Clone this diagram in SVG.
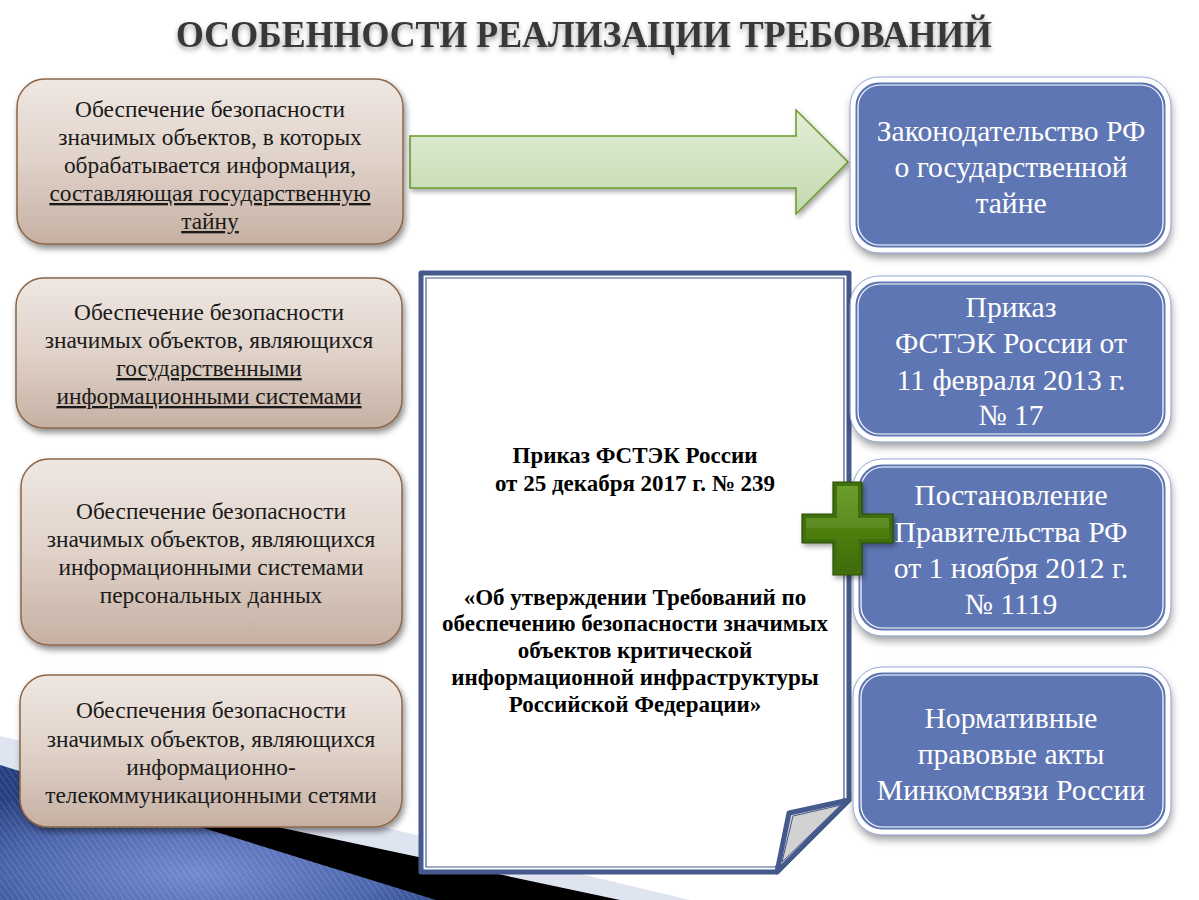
<svg xmlns="http://www.w3.org/2000/svg" width="1199" height="900" viewBox="0 0 1199 900">
<defs>
  <style>
    .lt { font-family: "Liberation Serif", "Tinos", "DejaVu Serif", "Noto Serif", serif; font-size: 23.4px; fill: #1a1a1a; text-anchor: middle; }
    .rt { font-family: "Liberation Serif", "Tinos", "DejaVu Serif", "Noto Serif", serif; font-size: 29.6px; fill: #ffffff; text-anchor: middle; }
    .dt { font-family: "Liberation Serif", "Tinos", "DejaVu Serif", "Noto Serif", serif; font-size: 23px; font-weight: bold; fill: #000000; text-anchor: middle; }
    .tt { font-family: "Liberation Serif", "Tinos", "DejaVu Serif", "Noto Serif", serif; font-size: 38px; font-weight: bold; fill: #383838; text-anchor: middle; }
    .lbox { fill: url(#gBeige); stroke: #8c6647; stroke-width: 1.5; }
    .rbox { fill: #5f76b4; stroke: #ffffff; stroke-width: 5; }
    .rin { fill: none; stroke: #ffffff; stroke-width: 1.2; }
    .rout { fill: none; stroke: #9aabd8; stroke-width: 1; }
  </style>
  <linearGradient id="gBeige" x1="0" y1="0" x2="0" y2="1">
    <stop offset="0" stop-color="#efe7e2"/>
    <stop offset="0.5" stop-color="#e0d2c9"/>
    <stop offset="1" stop-color="#c6b0a3"/>
  </linearGradient>
  <linearGradient id="gArrow" x1="0" y1="0" x2="0" y2="1">
    <stop offset="0" stop-color="#e3eed9"/>
    <stop offset="1" stop-color="#c2d9ae"/>
  </linearGradient>
  <linearGradient id="gCross" x1="0" y1="0" x2="0" y2="1">
    <stop offset="0" stop-color="#5f9518"/>
    <stop offset="1" stop-color="#3f6c08"/>
  </linearGradient>
  <radialGradient id="gBlue" cx="0.45" cy="0.8" r="0.7">
    <stop offset="0" stop-color="#7189cf"/>
    <stop offset="0.6" stop-color="#4c66ae"/>
    <stop offset="1" stop-color="#263f80"/>
  </radialGradient>
  <pattern id="pStripe" width="5" height="5" patternUnits="userSpaceOnUse" patternTransform="rotate(-35)">
    <rect width="5" height="5" fill="none"/>
    <line x1="0" y1="0" x2="0" y2="5" stroke="#ffffff" stroke-opacity="0.18" stroke-width="1.5"/>
  </pattern>
  <filter id="shL" x="-10%" y="-10%" width="125%" height="135%">
    <feDropShadow dx="2" dy="4" stdDeviation="3" flood-color="#000" flood-opacity="0.45"/>
  </filter>
  <filter id="shR" x="-10%" y="-10%" width="125%" height="135%">
    <feDropShadow dx="1" dy="5" stdDeviation="4" flood-color="#000" flood-opacity="0.4"/>
  </filter>
  <filter id="shT" x="-5%" y="-30%" width="110%" height="170%">
    <feDropShadow dx="0" dy="3" stdDeviation="2.5" flood-color="#555" flood-opacity="0.6"/>
  </filter>
  <filter id="shA" x="-5%" y="-10%" width="110%" height="130%">
    <feDropShadow dx="2" dy="3" stdDeviation="2.5" flood-color="#000" flood-opacity="0.35"/>
  </filter>
</defs>

<rect x="0" y="0" width="1199" height="900" fill="#ffffff"/>

<!-- bottom-left decoration -->
<g id="decor">
  <polygon points="0,736 690,900 0,900" fill="#dfe4f1"/>
  <polygon points="0,768 620,900 0,900" fill="#000000"/>
  <polygon points="0,765 436,900 0,900" fill="url(#gBlue)"/>
  <polygon points="0,765 436,900 0,900" fill="url(#pStripe)"/>
</g>

<!-- title -->
<text class="tt" x="584" y="47" textLength="816" lengthAdjust="spacingAndGlyphs" filter="url(#shT)">ОСОБЕННОСТИ РЕАЛИЗАЦИИ ТРЕБОВАНИЙ</text>

<!-- connectors -->
<g id="connectors">
  <polygon points="410,136 796,136 796,110 848,162 796,214 796,188 410,188" fill="url(#gArrow)" stroke="#6a9a2a" stroke-width="1.5" filter="url(#shA)"/>
</g>

<!-- left boxes -->
<g id="left1">
  <rect class="lbox" x="17" y="79" width="386" height="165" rx="28" filter="url(#shL)"/>
  <text class="lt" x="210" y="117">Обеспечение безопасности</text>
  <text class="lt" x="210" y="145">значимых объектов, в которых</text>
  <text class="lt" x="210" y="173">обрабатывается информация,</text>
  <text class="lt" x="210" y="201" text-decoration="underline">составляющая государственную</text>
  <text class="lt" x="210" y="229" text-decoration="underline">тайну</text>
</g>
<g id="left2">
  <rect class="lbox" x="16" y="278" width="386" height="150" rx="28" filter="url(#shL)"/>
  <text class="lt" x="209" y="320">Обеспечение безопасности</text>
  <text class="lt" x="209" y="348">значимых объектов, являющихся</text>
  <text class="lt" x="209" y="376" text-decoration="underline">государственными</text>
  <text class="lt" x="209" y="404" text-decoration="underline">информационными системами</text>
</g>
<g id="left3">
  <rect class="lbox" x="21" y="459" width="381" height="186" rx="28" filter="url(#shL)"/>
  <text class="lt" x="211" y="519">Обеспечение безопасности</text>
  <text class="lt" x="211" y="547">значимых объектов, являющихся</text>
  <text class="lt" x="211" y="575">информационными системами</text>
  <text class="lt" x="211" y="603">персональных данных</text>
</g>
<g id="left4">
  <rect class="lbox" x="20" y="675" width="382" height="152" rx="28" filter="url(#shL)"/>
  <text class="lt" x="211" y="718">Обеспечения безопасности</text>
  <text class="lt" x="211" y="747">значимых объектов, являющихся</text>
  <text class="lt" x="211" y="775">информационно-</text>
  <text class="lt" x="211" y="803">телекоммуникационными сетями</text>
</g>

<!-- central document -->
<g id="document">
  <path d="M421,273 H849 V800 L777,872 H421 Z" fill="#ffffff" stroke="#46598c" stroke-width="5" stroke-linejoin="round"/>
  <path d="M426,278 H844 V798 L775,867 H426 Z" fill="none" stroke="#46598c" stroke-width="1.2"/>
  <polygon points="849,800 789,813 777,872" fill="#d2d2d2" stroke="#46598c" stroke-width="5" stroke-linejoin="round"/>
  <polygon points="841,805 793,816 782,862" fill="none" stroke="#46598c" stroke-width="1"/>
  <text class="dt" x="635" y="463">Приказ ФСТЭК России</text>
  <text class="dt" x="635" y="491">от 25 декабря 2017 г. № 239</text>
  <text class="dt" x="635" y="605">«Об утверждении Требований по</text>
  <text class="dt" x="635" y="631">обеспечению безопасности значимых</text>
  <text class="dt" x="635" y="658">объектов критической</text>
  <text class="dt" x="635" y="685">информационной инфраструктуры</text>
  <text class="dt" x="635" y="712">Российской Федерации»</text>
</g>

<!-- right boxes -->
<g id="right1">
  <rect class="rbox" x="853" y="80" width="315" height="170" rx="26" filter="url(#shR)"/>
  <rect class="rout" x="850" y="77" width="321" height="176" rx="29"/>
  <rect class="rin" x="858" y="85" width="305" height="160" rx="22"/>
  <text class="rt" x="1011" y="141">Законодательство РФ</text>
  <text class="rt" x="1011" y="177">о государственной</text>
  <text class="rt" x="1011" y="213">тайне</text>
</g>
<g id="right2">
  <rect class="rbox" x="853" y="279" width="315" height="160" rx="26" filter="url(#shR)"/>
  <rect class="rout" x="850" y="276" width="321" height="166" rx="29"/>
  <rect class="rin" x="858" y="284" width="305" height="150" rx="22"/>
  <text class="rt" x="1011" y="317">Приказ</text>
  <text class="rt" x="1011" y="353">ФСТЭК России от</text>
  <text class="rt" x="1011" y="390">11 февраля 2013 г.</text>
  <text class="rt" x="1011" y="425">№ 17</text>
</g>
<g id="right3">
  <rect class="rbox" x="856" y="462" width="312" height="171" rx="26" filter="url(#shR)"/>
  <rect class="rout" x="853" y="459" width="318" height="177" rx="29"/>
  <rect class="rin" x="861" y="467" width="302" height="161" rx="22"/>
  <text class="rt" x="1011" y="505">Постановление</text>
  <text class="rt" x="1011" y="542">Правительства РФ</text>
  <text class="rt" x="1011" y="578">от 1 ноября 2012 г.</text>
  <text class="rt" x="1011" y="614">№ 1119</text>
</g>
<g id="right4">
  <rect class="rbox" x="856" y="670" width="312" height="162" rx="26" filter="url(#shR)"/>
  <rect class="rout" x="853" y="667" width="318" height="168" rx="29"/>
  <rect class="rin" x="861" y="675" width="302" height="152" rx="22"/>
  <text class="rt" x="1011" y="728">Нормативные</text>
  <text class="rt" x="1011" y="764">правовые акты</text>
  <text class="rt" x="1011" y="800">Минкомсвязи России</text>
</g>

<!-- plus sign -->
<g id="plus" filter="url(#shA)">
  <polygon points="833,482 862,482 862,514 893,514 893,543 862,543 862,575 833,575 833,543 802,543 802,514 833,514" fill="#41700a" stroke="#2c4a06" stroke-width="1.2"/>
  <polygon points="837,486 858,486 858,518 889,518 889,539 858,539 858,571 837,571 837,539 806,539 806,518 837,518" fill="url(#gCross)"/>
  <polygon points="837,486 858,486 858,518 889,518 889,528 806,528 806,518 837,518" fill="#ffffff" fill-opacity="0.08"/>
</g>
</svg>
